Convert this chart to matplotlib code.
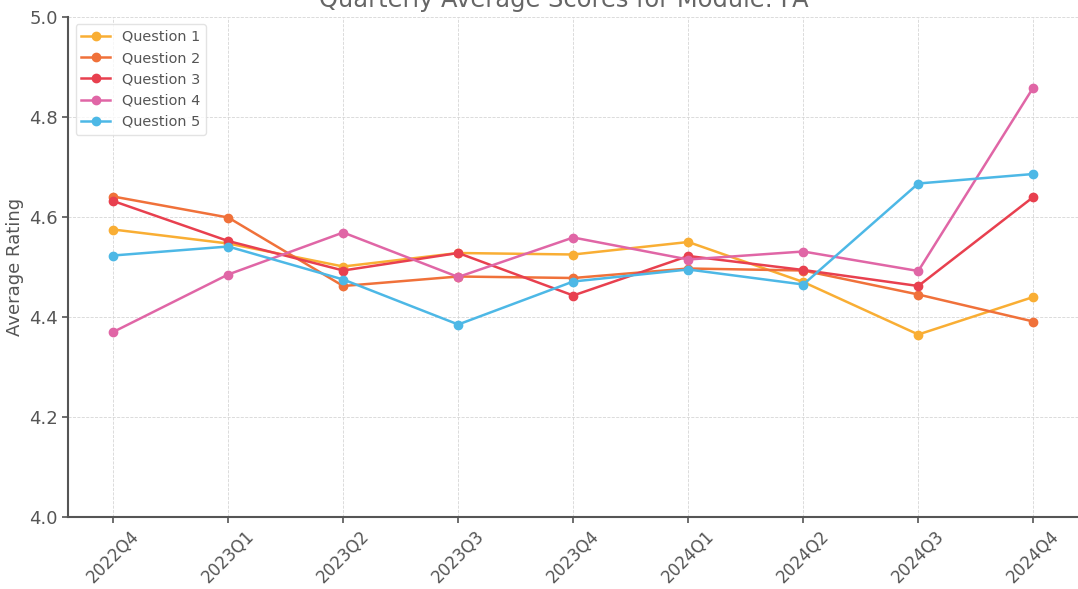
import matplotlib
matplotlib.use("Agg")
import matplotlib.pyplot as plt

quarters = ["2022Q4", "2023Q1", "2023Q2", "2023Q3", "2023Q4",
            "2024Q1", "2024Q2", "2024Q3", "2024Q4"]
q1 = [4.575, 4.547, 4.501, 4.528, 4.525, 4.550, 4.470, 4.365, 4.440]
q2 = [4.641, 4.599, 4.462, 4.481, 4.478, 4.497, 4.493, 4.445, 4.391]
q3 = [4.632, 4.552, 4.493, 4.528, 4.443, 4.522, 4.494, 4.462, 4.640]
q4 = [4.370, 4.485, 4.569, 4.480, 4.559, 4.515, 4.531, 4.492, 4.859]
q5 = [4.523, 4.541, 4.475, 4.385, 4.471, 4.495, 4.465, 4.667, 4.686]
series = {"Question 1": q1, "Question 2": q2, "Question 3": q3,
          "Question 4": q4, "Question 5": q5}
colors = ["#F9AE34", "#F0713A", "#E8404F", "#E066A6", "#4DB8E6"]
yticks = [4.0, 4.2, 4.4, 4.6, 4.8, 5.0]

W, H = 1078, 589
fig = plt.figure(figsize=(W / 100, H / 100), dpi=100)
ax = fig.add_axes([68.3 / W, 1 - 517 / H, (1079.3 - 68.3) / W, 500 / H])

text_c = "#555555"
x = list(range(len(quarters)))
for (name, vals), c in zip(series.items(), colors):
    ax.plot(x, vals, marker="o", color=c, lw=1.8, ms=6, label=name)

ax.set_xlim(-0.39, 8.4)
ax.set_ylim(4.0, 5.0)
ax.set_xticks(x)
ax.set_xticklabels(quarters, rotation=45, fontsize=12, color=text_c)
ax.set_yticks(yticks)
ax.set_yticklabels([f"{v:.1f}" for v in yticks], fontsize=13, color=text_c)
ax.set_ylabel("Average Rating", fontsize=13, color=text_c)
ax.grid(True, linestyle="--", color="#d6d6d6", lw=0.6)
ax.set_axisbelow(True)
for s in ["top", "right"]:
    ax.spines[s].set_visible(False)
for s in ["left", "bottom"]:
    ax.spines[s].set_color("#555555")
    ax.spines[s].set_linewidth(1.5)
ax.tick_params(colors="#555555", length=4, width=1.2, labelcolor=text_c)

leg = ax.legend(loc="upper left", fontsize=10.4, frameon=True,
                labelcolor=text_c, borderaxespad=0.5)
leg.get_frame().set_edgecolor("#dddddd")

fig.text(563.5 / W, 1 - 7 / H, "Quarterly Average Scores for Module: FA",
         ha="center", va="baseline", fontsize=17.4, color="#666666")

fig.savefig("out.png", dpi=100)
